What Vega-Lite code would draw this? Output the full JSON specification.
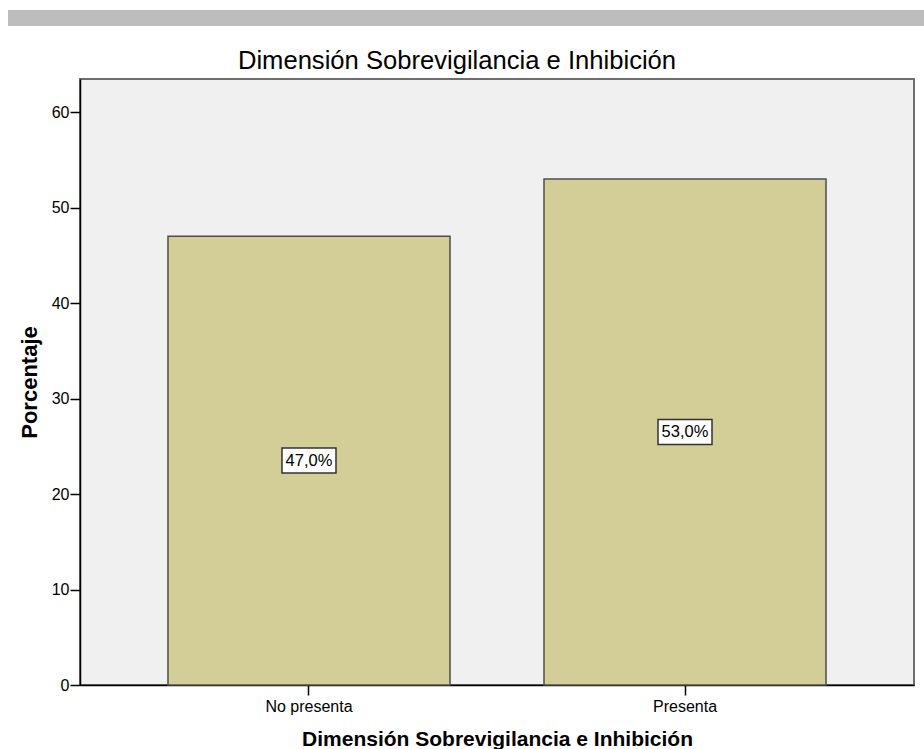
{
  "$schema": "https://vega.github.io/schema/vega-lite/v6.json",
  "background": "white",
  "padding": {"left": 8, "top": 10, "right": 0, "bottom": 0},
  "spacing": 22,
  "config": {
    "font": "Liberation Sans",
    "view": {"stroke": null},
    "axis": {"labelFont": "Liberation Sans", "titleFont": "Liberation Sans", "labelColor": "#000", "titleColor": "#000", "tickColor": "#000", "domainColor": "#000", "grid": false}
  },
  "vconcat": [
    {
      "width": 916, "height": 16,
      "view": {"fill": "#bdbdbd", "stroke": null},
      "data": {"values": [{"k": 1}]},
      "mark": {"type": "rect", "fill": "#bdbdbd", "strokeWidth": 0},
      "encoding": {}
    },
    {
      "spacing": 8,
      "hconcat": [
        {
          "width": 1, "height": 1,
          "view": {"stroke": null},
          "data": {"values": [{"k": 1}]},
          "mark": {"type": "rect", "opacity": 0},
          "encoding": {}
        },
        {
          "width": 834, "height": 606,
          "title": {"text": "Dimensión Sobrevigilancia e Inhibición", "fontSize": 25.6, "fontWeight": "normal", "font": "Liberation Sans", "color": "#000", "anchor": "middle", "baseline": "bottom", "offset": -21, "dx": -40},
          "view": {"fill": "#f0f0f0", "stroke": "#6e6e6e", "strokeWidth": 2},
          "data": {"values": [
            {"cat": "No presenta", "pct": 47.0, "label": "47,0%"},
            {"cat": "Presenta", "pct": 53.0, "label": "53,0%"}
          ]},
          "encoding": {
            "x": {"field": "cat", "type": "nominal", "sort": null,
              "scale": {"paddingInner": 0.25, "paddingOuter": 0.234},
              "axis": {"title": "Dimensión Sobrevigilancia e Inhibición", "labelAngle": 0, "labelFontSize": 16, "tickSize": 10, "labelPadding": 3, "titleFontSize": 21, "titleFontWeight": "bold", "titlePadding": 14, "domainWidth": 1.5, "tickWidth": 1.5}}
          },
          "layer": [
            {
              "mark": {"type": "bar", "fill": "#d3ce97", "stroke": "#4d4d4d", "strokeWidth": 1.5},
              "encoding": {
                "y": {"field": "pct", "type": "quantitative", "scale": {"domain": [0, 63.46], "nice": false, "zero": true},
                  "axis": {"title": "Porcentaje", "values": [0, 10, 20, 30, 40, 50, 60], "labelFontSize": 16, "tickSize": 10, "labelPadding": 1, "titleFontSize": 22, "titleFontWeight": "bold", "titlePadding": 10, "domainWidth": 1.5, "tickWidth": 1.5}}
              }
            },
            {
              "mark": {"type": "point", "shape": "M-1,-0.463H1V0.463H-1Z", "size": 2916, "filled": true, "fill": "white", "stroke": "#333333", "strokeWidth": 1.5, "opacity": 1},
              "encoding": {
                "y": {"field": "pct", "type": "quantitative", "scale": {"domain": [0, 126.92], "nice": false}, "axis": null}
              }
            },
            {
              "mark": {"type": "text", "fontSize": 16.5, "color": "#000000", "baseline": "middle"},
              "encoding": {
                "y": {"field": "pct", "type": "quantitative", "scale": {"domain": [0, 126.92], "nice": false}, "axis": null},
                "text": {"field": "label"}
              }
            }
          ],
          "resolve": {"scale": {"y": "independent"}}
        }
      ]
    }
  ]
}
